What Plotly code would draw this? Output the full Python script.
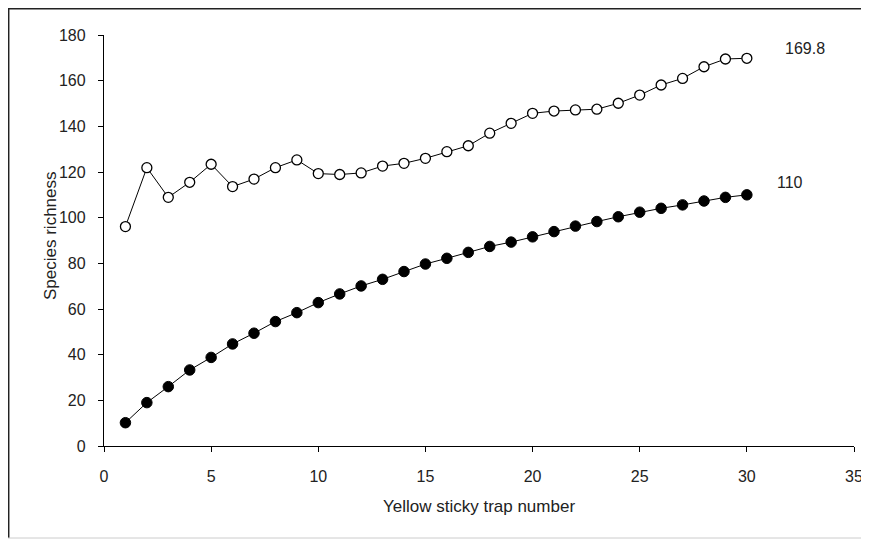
import plotly.graph_objects as go

traps = list(range(1, 31))
observed = [10.2, 19.0, 26.0, 33.3, 38.8, 44.7, 49.4, 54.5, 58.4, 62.8,
            66.6, 70.1, 73.0, 76.4, 79.7, 82.2, 84.8, 87.4, 89.3, 91.6,
            93.9, 96.3, 98.3, 100.4, 102.4, 104.1, 105.6, 107.3, 108.9, 110.0]
estimated = [96.1, 121.9, 108.9, 115.5, 123.4, 113.6, 116.9, 121.9, 125.3, 119.3,
             118.9, 119.6, 122.6, 123.8, 126.0, 128.9, 131.5, 137.0, 141.3, 145.7,
             146.7, 147.2, 147.5, 150.1, 153.7, 158.1, 161.0, 166.1, 169.5, 169.8]
end_labels = ["169.8", "110"]

xticks = [0, 5, 10, 15, 20, 25, 30, 35]
yticks = [0, 20, 40, 60, 80, 100, 120, 140, 160, 180]

font = "Liberation Sans, Arial, sans-serif"

W, H = 861, 532
L, R, T, B = 96, 15, 27, 94
PW, PH = W - L - R, H - T - B

fig = go.Figure()
fig.add_trace(go.Scatter(
    x=traps, y=estimated, mode="lines+markers",
    line=dict(color="black", width=1),
    marker=dict(symbol="circle", size=10, color="white",
                line=dict(color="black", width=1.3)),
    showlegend=False))
fig.add_trace(go.Scatter(
    x=traps, y=observed, mode="lines+markers",
    line=dict(color="black", width=1),
    marker=dict(symbol="circle", size=10.5, color="black",
                line=dict(color="black", width=1)),
    showlegend=False))

fig.add_annotation(x=31.7, y=174.3, text=end_labels[0], showarrow=False,
                   xanchor="left", yanchor="middle",
                   font=dict(family=font, size=16, color="#222"))
fig.add_annotation(x=31.3, y=115.3, text=end_labels[1], showarrow=False,
                   xanchor="left", yanchor="middle",
                   font=dict(family=font, size=16, color="#222"))

def px(fx):
    return (fx - L) / PW

def py(fy):
    return (H - B - fy) / PH

# y axis title placed explicitly
fig.add_annotation(xref="paper", yref="paper", x=px(43), y=py(228),
                   text="Species richness", textangle=-90, showarrow=False,
                   xanchor="center", yanchor="middle",
                   font=dict(family=font, size=17, color="#222"))

# outer frame (left, top dark; bottom light)
fig.add_shape(type="line", xref="paper", yref="paper",
              x0=px(0.7), x1=px(0.7), y0=py(530), y1=py(0),
              line=dict(color="#222", width=1.5))
fig.add_shape(type="line", xref="paper", yref="paper",
              x0=px(0), x1=px(W), y0=py(0.7), y1=py(0.7),
              line=dict(color="#222", width=1.5))
fig.add_shape(type="line", xref="paper", yref="paper",
              x0=px(0), x1=px(W), y0=py(530), y1=py(530),
              line=dict(color="#cccccc", width=1))

fig.update_layout(
    width=W, height=H,
    margin=dict(l=L, r=R, t=T, b=B, autoexpand=False),
    paper_bgcolor="white", plot_bgcolor="white",
    font=dict(family=font, size=16, color="#222"),
)
fig.update_xaxes(
    range=[0, 35], tickvals=xticks, ticks="outside", ticklen=5,
    tickcolor="black", showline=True, linecolor="black", linewidth=1.3,
    showgrid=False, zeroline=False, ticklabelstandoff=11,
    title=dict(text="Yellow sticky trap number", standoff=15,
               font=dict(size=17)),
)
fig.update_yaxes(
    range=[0, 180], tickvals=yticks, ticks="outside", ticklen=5,
    tickcolor="black", showline=True, linecolor="black", linewidth=1.3,
    showgrid=False, zeroline=False, ticklabelstandoff=9,
)

fig.write_html("out.html")
